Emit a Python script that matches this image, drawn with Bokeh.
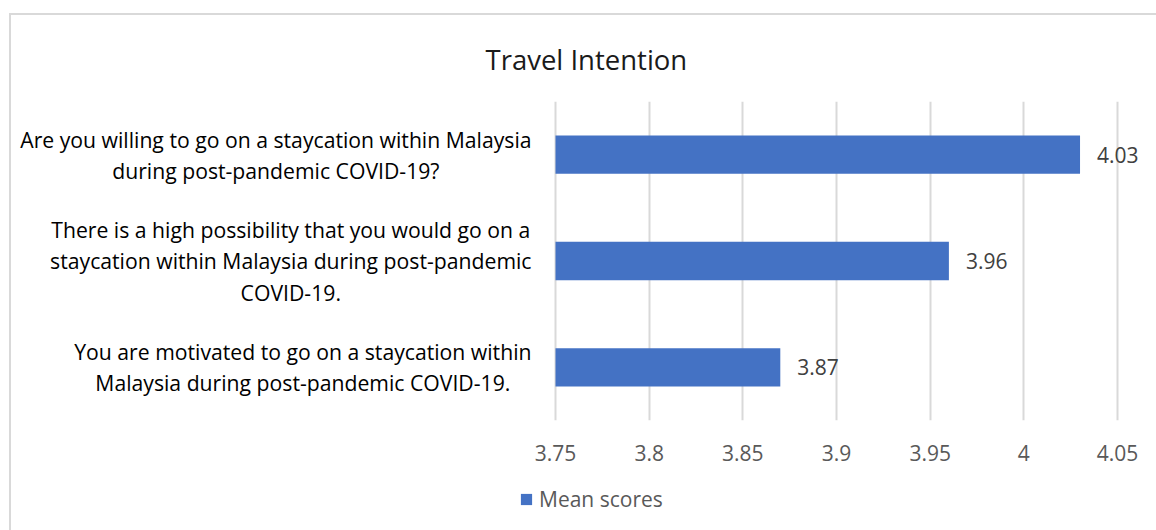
from bokeh.plotting import figure
from bokeh.layouts import column
from bokeh.models import (FactorRange, Range1d, ColumnDataSource, LabelSet,
                          Legend, LegendItem, FixedTicker)
from bokeh.embed import file_html
from bokeh.resources import INLINE
from bokeh.core.properties import value

# ---------------- data ----------------
categories = [
    "Are you willing to go on a staycation within Malaysia\nduring post-pandemic COVID-19?",
    "There is a high possibility that you would go on a\nstaycation within Malaysia during post-pandemic\nCOVID-19.",
    "You are motivated to go on a staycation within\nMalaysia during post-pandemic COVID-19.",
]
mean_scores = [4.03, 3.96, 3.87]
value_labels = ["4.03", "3.96", "3.87"]
x_ticks = [3.75, 3.8, 3.85, 3.9, 3.95, 4.0, 4.05]
x_tick_labels = ["3.75", "3.8", "3.85", "3.9", "3.95", "4", "4.05"]
series_name = "Mean scores"
chart_title = "Travel Intention"

# ---------------- style / layout ----------------
FONT = "Open Sans"
W = 1145
H_MAIN, H_LEG = 460, 55
BAR = "#4472C4"
GRID = "#d9d9d9"

AXIS_MIN, AXIS_MAX = x_ticks[0], x_ticks[-1]
AXIS_PX = 562.0                 # pixels between axis min and axis max
AXIS_LEFT_PX = 544.0            # canvas x of the axis minimum
px_per_unit = AXIS_PX / (AXIS_MAX - AXIS_MIN)
x_start = AXIS_MIN - AXIS_LEFT_PX / px_per_unit
x_end = AXIS_MIN + (W - AXIS_LEFT_PX) / px_per_unit

p = figure(width=W, height=H_MAIN,
           y_range=FactorRange(factors=categories[::-1]),
           x_range=Range1d(x_start, x_end),
           output_backend="svg", toolbar_location=None,
           min_border_left=0, min_border_right=0,
           min_border_top=86, min_border_bottom=55)
p.outline_line_color = None
p.background_fill_color = "white"
p.border_fill_color = "white"

src = ColumnDataSource(dict(cat=categories, v=mean_scores, lbl=value_labels))
r = p.hbar(y="cat", left=AXIS_MIN, right="v", height=0.36, source=src,
           fill_color=BAR, line_color=None)

# grid
p.ygrid.grid_line_color = None
p.xgrid.grid_line_color = GRID
p.xgrid.grid_line_width = 2
p.xgrid.ticker = FixedTicker(ticks=x_ticks)

# x axis
xa = p.xaxis[0]
xa.ticker = FixedTicker(ticks=x_ticks)
xa.major_label_overrides = {t: l for t, l in zip(x_ticks, x_tick_labels)}
xa.axis_line_color = None
xa.major_tick_line_color = None
xa.minor_tick_line_color = None
xa.major_label_standoff = 18
xa.major_label_text_font = FONT
xa.major_label_text_font_size = "21px"
xa.major_label_text_color = "#595959"

# category labels (centred lines, block right-anchored at the axis start)
p.yaxis.visible = False
p.text(x=AXIS_MIN, y="cat", text="cat", source=src, x_offset=-24,
       anchor="center_right", text_align="center", text_baseline="middle",
       text_font=value(FONT), text_font_size=value("21.2px"),
       text_color="#000000", text_line_height=1.08)

# value labels
labels = LabelSet(x="v", y="cat", text="lbl", source=src, x_offset=17,
                  text_baseline="middle", text_align="left",
                  text_font=value(FONT), text_font_size=value("21px"),
                  text_color="#404040")
p.add_layout(labels)

# title
p.title.text = chart_title
p.title.align = "left"
p.title.offset = 474
p.title.standoff = 47
p.title.text_font = FONT
p.title.text_font_size = "27.5px"
p.title.text_font_style = "normal"
p.title.text_color = "#1a1a1a"

# legend strip (the series bars lie outside this strip's ranges; only the key shows)
lf = figure(width=W, height=H_LEG, x_range=Range1d(0, 1), y_range=Range1d(0, 1),
            output_backend="svg", toolbar_location=None,
            min_border_left=0, min_border_right=0, min_border_top=0, min_border_bottom=0)
lf.xaxis.visible = False
lf.yaxis.visible = False
lf.grid.visible = False
lf.outline_line_color = None
lr = lf.hbar(y=mean_scores, left=AXIS_MIN, right=mean_scores, height=0.36,
             fill_color=BAR, line_color=None)
legend = Legend(items=[LegendItem(label=series_name, renderers=[lr])],
                location=(508, 17), orientation="horizontal",
                padding=0, margin=0, spacing=0,
                glyph_width=14, glyph_height=14, label_standoff=6,
                border_line_color=None, background_fill_alpha=0,
                label_text_font=FONT, label_text_font_size="21px",
                label_text_color="#595959")
lf.add_layout(legend)

layout = column(p, lf, spacing=0,
                styles={"margin-left": "9px", "margin-top": "13px",
                        "border-left": "2px solid #d9d9d9",
                        "border-top": "2px solid #d9d9d9"})

open("out.html", "w").write(file_html(layout, INLINE))
